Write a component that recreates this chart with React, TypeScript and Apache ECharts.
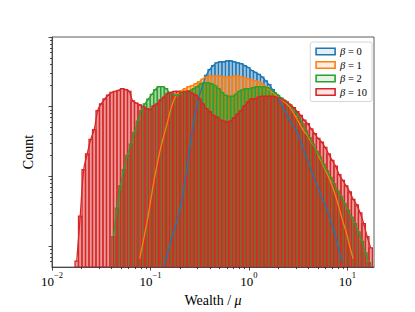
import React, { useEffect, useRef } from 'react';
import * as echarts from 'echarts';

// ---- data ----
const BETAS = [0, 1, 2, 10];
const SERIES_NAMES = BETAS.map((b) => `β = ${b}`);
const COLORS = ['#1f77b4', '#ff7f0e', '#2ca02c', '#d62728'];
const FILLS = ['rgba(31,119,180,0.45)', 'rgba(255,127,14,0.45)', 'rgba(44,160,44,0.45)', 'rgba(214,39,40,0.48)'];
const LEGEND_FILLS = ['rgba(31,119,180,0.12)', 'rgba(255,127,14,0.12)', 'rgba(44,160,44,0.12)', 'rgba(214,39,40,0.12)'];

// log-spaced bins (log10 of first edge, width in decades)
const BIN_LOG_START = -1.7665;
const BIN_LOG_WIDTH = 0.03553;
const BIN_SHIFT = [0, 0, 0.5, 0];
const BIN_FIRST = [25, 18, 10, 0];

const countsBeta0 = [
  0.53, 0.8, 1.25, 1.8, 2.65, 4.5, 9.1, 20, 44, 85,
  141, 200, 283, 342, 388, 427, 440, 440, 454, 454,
  440, 427, 414, 388, 365, 331, 311, 292, 266, 235,
  207, 176, 151, 121, 97, 78, 62, 52, 43, 32,
  23, 17, 12.5, 9.1, 6.8, 5, 3.9, 2.8, 2, 1.37,
  0.85, 0.58,
];
const countsBeta1 = [
  0.66, 1.17, 2.1, 4.1, 8.3, 15, 26, 40, 62, 97,
  133, 160, 171, 182, 194, 200, 213, 227, 250, 266,
  274, 274, 274, 274, 266, 266, 266, 274, 274, 266,
  258, 250, 243, 235, 227, 213, 194, 176, 160, 146,
  133, 121, 110, 97, 80, 66, 53, 44, 38, 31,
  26, 20, 16, 12.5, 9.7, 7.3, 5.2, 3.5, 2.3, 1.6,
  1.0, 0.66,
];
const countsBeta2 = [
  1.37, 3.5, 7.3, 12.5, 20, 29, 43, 62, 88, 110,
  129, 151, 176, 194, 194, 182, 160, 151, 146, 151,
  160, 166, 171, 182, 194, 213, 220, 220, 213, 200,
  182, 160, 146, 141, 141, 151, 166, 176, 182, 182,
  188, 194, 194, 194, 188, 176, 160, 146, 133, 121,
  110, 97, 83, 71, 57, 45, 36, 29, 23, 19,
  15, 12, 9.7, 7.8, 6.2, 5.2, 4.1, 3.3, 2.6, 2.1,
  1.6, 1.17, 0.8, 0.58,
];
const countsBeta10 = [
  0.61, 2.7, 12.5, 21, 34, 47, 88, 110, 129, 146,
  160, 166, 171, 182, 176, 166, 121, 113, 106, 100,
  94, 91, 103, 110, 125, 137, 155, 160, 166, 166,
  160, 166, 166, 155, 146, 129, 110, 94, 85, 75,
  71, 64, 62, 60, 62, 69, 78, 88, 103, 117,
  129, 129, 137, 141, 141, 141, 141, 137, 133, 125,
  117, 106, 97, 85, 75, 64, 57, 48, 41, 35,
  31, 26, 21, 17, 14, 10.6, 8.8, 7.3, 6.0, 4.7,
  3.9, 3.0, 2.1, 1.37, 0.94,
];
const COUNTS = [countsBeta0, countsBeta1, countsBeta2, countsBeta10];

const X_MIN = 0.01;
const X_MAX = 18.6;
const Y_MIN = 0.5;
const Y_MAX = 1000;
const X_MAJOR = [0.01, 0.1, 1, 10];
const X_MINOR = [
  0.02, 0.03, 0.04, 0.05, 0.06, 0.07, 0.08, 0.09,
  0.2, 0.3, 0.4, 0.5, 0.6, 0.7, 0.8, 0.9,
  2, 3, 4, 5, 6, 7, 8, 9,
];
const Y_MAJOR = [1, 10, 100, 1000];
const Y_MINOR = [
  0.6, 0.7, 0.8, 0.9,
  2, 3, 4, 5, 6, 7, 8, 9,
  20, 30, 40, 50, 60, 70, 80, 90,
  200, 300, 400, 500, 600, 700, 800, 900,
];

const FONT = '"Liberation Serif", "DejaVu Serif", serif';

function histData(s: number) {
  return COUNTS[s].map((c, j) => {
    const i = BIN_FIRST[s] + j + BIN_SHIFT[s];
    const lo = Math.pow(10, BIN_LOG_START + i * BIN_LOG_WIDTH);
    const hi = Math.pow(10, BIN_LOG_START + (i + 1) * BIN_LOG_WIDTH);
    return [lo, hi, c, Math.sqrt(lo * hi)];
  });
}

export default function App() {
  const ref = useRef<HTMLDivElement>(null);
  useEffect(() => {
    if (!ref.current) return;
    const chart = echarts.init(ref.current, undefined, { renderer: 'svg' });

    const histSeries = COLORS.map((color, s) => ({
      type: 'custom',
      name: SERIES_NAMES[s],
      z: 2 + s,
      clip: true,
      itemStyle: { color },
      data: histData(s),
      encode: { x: [0, 1], y: 2 },
      renderItem: (params: any, api: any) => {
        const lo = api.value(0);
        const hi = api.value(1);
        const c = api.value(2);
        const a = api.coord([lo, c]);
        const b = api.coord([hi, Y_MIN]);
        return {
          type: 'rect',
          shape: { x: a[0], y: a[1], width: b[0] - a[0], height: b[1] - a[1] },
          style: { fill: FILLS[s], stroke: color, lineWidth: s === 3 ? 1.25 : 1.15 },
        };
      },
    }));

    const kdeSeries = COLORS.map((color, s) => ({
      type: 'line',
      name: 'kde' + s,
      z: 10,
      silent: true,
      smooth: 0.4,
      symbol: 'none',
      showSymbol: false,
      clip: true,
      lineStyle: { color, width: 1.3 },
      data: histData(s).map((d) => [d[3], d[2]]),
    }));

    const tickStyle = { color: '#222', width: 0.8 };

    chart.setOption({
      animation: false,
      textStyle: { fontFamily: FONT },
      grid: {
        left: 52, right: 41, top: 37, bottom: 35,
        show: true, borderColor: '#333', borderWidth: 0.8, backgroundColor: 'transparent',
      },
      legend: {
        data: SERIES_NAMES.map((n, s) => ({
          name: n,
          icon: 'rect',
          itemStyle: { color: LEGEND_FILLS[s], borderColor: COLORS[s], borderWidth: 1.6 },
        })),
        orient: 'vertical',
        right: 43,
        top: 42,
        itemWidth: 19,
        itemHeight: 6.5,
        itemGap: 2.5,
        padding: [4, 5, 4, 5],
        backgroundColor: 'rgba(255,255,255,0.85)',
        borderColor: '#cccccc',
        borderWidth: 0.8,
        borderRadius: 2,
        selectedMode: false,
        formatter: (name: string) => {
          const [g, v] = name.split(' = ');
          return `{i|${g}}{t| = ${v}}`;
        },
        textStyle: {
          fontFamily: FONT,
          fontSize: 10.5,
          color: '#000',
          lineHeight: 10,
          rich: {
            i: { fontStyle: 'italic', fontSize: 10.5, fontFamily: FONT, color: '#000' },
            t: { fontSize: 10.5, fontFamily: FONT, color: '#000' },
          },
        },
      },
      xAxis: [
        {
          type: 'log', logBase: 10, min: X_MIN, max: X_MAX, position: 'bottom', z: 20,
          axisLine: { show: true, lineStyle: { color: '#333', width: 0.8 } },
          axisTick: { show: true, length: 3.5, customValues: X_MAJOR, lineStyle: tickStyle },
          axisLabel: {
            customValues: X_MAJOR,
            margin: 3,
            formatter: (v: number) => {
              const e = Math.round(Math.log10(v));
              return `{b|10}{s|${e < 0 ? '−' + -e : e}}`;
            },
            rich: {
              b: { fontSize: 13, lineHeight: 18, verticalAlign: 'bottom', fontFamily: FONT, color: '#000' },
              s: { fontSize: 8.5, lineHeight: 9, verticalAlign: 'top', fontFamily: FONT, color: '#000' },
            },
          },
          splitLine: { show: false },
          name: '{t|Wealth / }{i|μ}',
          nameLocation: 'middle',
          nameGap: 16,
          nameTextStyle: {
            rich: {
              t: { fontSize: 14, fontFamily: FONT, color: '#000' },
              i: { fontSize: 14, fontFamily: FONT, fontStyle: 'italic', color: '#000' },
            },
          },
        },
        {
          type: 'log', logBase: 10, min: X_MIN, max: X_MAX, position: 'bottom', z: 20,
          axisLine: { show: false },
          axisTick: { show: true, length: 2, customValues: X_MINOR, lineStyle: tickStyle },
          axisLabel: { show: false },
          splitLine: { show: false },
        },
      ],
      yAxis: [
        {
          type: 'log', logBase: 10, min: Y_MIN, max: Y_MAX, position: 'left', z: 20,
          axisLine: { show: true, lineStyle: { color: '#333', width: 0.8 } },
          axisTick: { show: true, length: 3.5, customValues: Y_MAJOR, lineStyle: tickStyle },
          axisLabel: { show: false },
          splitLine: { show: false },
          name: 'Count',
          nameLocation: 'middle',
          nameGap: 17,
          nameTextStyle: { fontSize: 14, fontFamily: FONT, color: '#000' },
        },
        {
          type: 'log', logBase: 10, min: Y_MIN, max: Y_MAX, position: 'left', z: 20,
          axisLine: { show: false },
          axisTick: { show: true, length: 2, customValues: Y_MINOR, lineStyle: tickStyle },
          axisLabel: { show: false },
          splitLine: { show: false },
        },
      ],
      series: [...histSeries, ...kdeSeries],
    });
    return () => chart.dispose();
  }, []);

  return <div ref={ref} style={{ position: 'fixed', left: 0, top: 0, width: 415, height: 312, background: '#fff' }} />;
}
